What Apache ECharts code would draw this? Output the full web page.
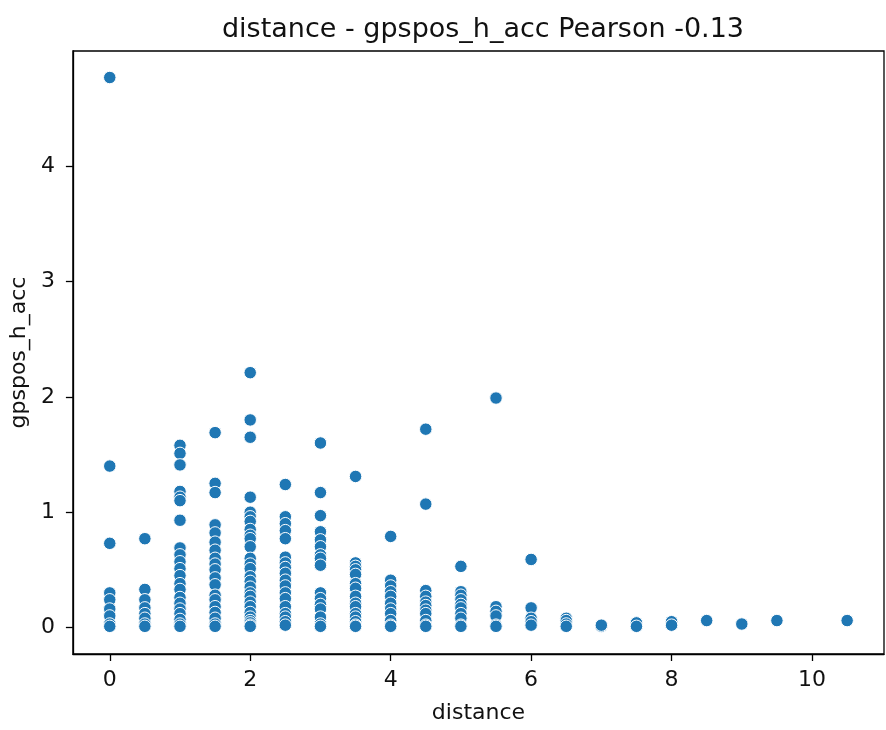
<!DOCTYPE html>
<html>
<head>
<meta charset="utf-8">
<script src="https://cdn.jsdelivr.net/npm/echarts@6/dist/echarts.min.js"></script>
<style>
html,body{margin:0;padding:0;background:#fff;}
#chart{width:886px;height:730px;}
</style>
</head>
<body>
<div id="chart"></div>
<script>
const titleText = 'distance - gpspos_h_acc Pearson -0.13';
const xName = 'distance';
const yName = 'gpspos_h_acc';
const xTicks = [0, 2, 4, 6, 8, 10];
const yTicks = [0, 1, 2, 3, 4];
const distance = [0, 0.5, 1, 1.5, 2, 2.5, 3, 3.5, 4, 4.5, 5, 5.5, 6, 6.5, 7, 7.5, 8, 8.5, 9, 9.5, 10.5];
const gpsposHAcc = [
  [4.77, 1.40, 0.73, 0.30, 0.24, 0.16, 0.10, 0.03, 0.01],
  [0.77, 0.33, 0.24, 0.17, 0.12, 0.08, 0.03, 0.01],
  [1.58, 1.51, 1.41, 1.18, 1.13, 1.10, 0.93, 0.69, 0.63, 0.57, 0.51, 0.45, 0.38, 0.33, 0.26, 0.21, 0.16, 0.12, 0.07, 0.03, 0.01],
  [1.69, 1.25, 1.17, 0.89, 0.82, 0.74, 0.67, 0.60, 0.55, 0.50, 0.43, 0.37, 0.28, 0.24, 0.18, 0.13, 0.08, 0.03, 0.01],
  [2.21, 1.80, 1.65, 1.13, 1.00, 0.96, 0.92, 0.85, 0.80, 0.77, 0.70, 0.60, 0.55, 0.51, 0.44, 0.40, 0.35, 0.30, 0.27, 0.22, 0.18, 0.13, 0.09, 0.06, 0.04, 0.02, 0.01],
  [1.24, 0.96, 0.90, 0.84, 0.77, 0.61, 0.56, 0.52, 0.47, 0.41, 0.36, 0.30, 0.25, 0.18, 0.12, 0.09, 0.05, 0.02],
  [1.60, 1.17, 0.97, 0.83, 0.76, 0.70, 0.63, 0.60, 0.54, 0.30, 0.25, 0.20, 0.16, 0.09, 0.03, 0.01],
  [1.31, 0.56, 0.53, 0.50, 0.46, 0.38, 0.34, 0.27, 0.21, 0.18, 0.12, 0.09, 0.05, 0.02, 0.01],
  [0.79, 0.41, 0.36, 0.31, 0.27, 0.21, 0.16, 0.12, 0.06, 0.02, 0.01],
  [1.72, 1.07, 0.32, 0.27, 0.22, 0.19, 0.15, 0.12, 0.06, 0.02, 0.01],
  [0.53, 0.31, 0.28, 0.24, 0.20, 0.17, 0.12, 0.08, 0.02, 0.01],
  [1.99, 0.18, 0.14, 0.10, 0.02, 0.01],
  [0.59, 0.17, 0.08, 0.05, 0.02],
  [0.08, 0.06, 0.03, 0.01],
  [0.01, 0.02],
  [0.04, 0.01],
  [0.05, 0.02],
  [0.06],
  [0.03],
  [0.06],
  [0.06]
];

const points = [];
distance.forEach((d, i) => gpsposHAcc[i].forEach(v => points.push([d, v])));

const font = 'DejaVu Sans';
const chart = echarts.init(document.getElementById('chart'), null, {renderer: 'canvas'});
chart.setOption({
  animation: false,
  backgroundColor: '#fff',
  title: {
    text: titleText,
    left: 478,
    textAlign: 'center',
    top: 11,
    textStyle: {fontFamily: font, fontSize: 27, fontWeight: 'normal', color: '#111'}
  },
  grid: {
    left: 72, right: 2, top: 51, bottom: 76,
    show: true, borderColor: '#000', borderWidth: 1.3, backgroundColor: 'transparent'
  },
  xAxis: {
    type: 'value',
    min: -0.525, max: 11.025,
    name: xName,
    nameLocation: 'middle',
    nameGap: 48,
    nameTextStyle: {fontFamily: font, fontSize: 22, color: '#111'},
    splitLine: {show: false},
    axisLine: {show: true, onZero: false, lineStyle: {color: '#000', width: 1.3}},
    axisTick: {show: true, length: 7, customValues: xTicks, lineStyle: {color: '#000', width: 1.3}},
    axisLabel: {customValues: xTicks, fontFamily: font, fontSize: 22, color: '#111', margin: 15}
  },
  yAxis: {
    type: 'value',
    min: -0.23, max: 5.0,
    name: yName,
    nameLocation: 'middle',
    nameGap: 36,
    nameTextStyle: {fontFamily: font, fontSize: 22, color: '#111'},
    splitLine: {show: false},
    axisLine: {show: true, onZero: false, lineStyle: {color: '#000', width: 1.3}},
    axisTick: {show: true, length: 7, customValues: yTicks, lineStyle: {color: '#000', width: 1.3}},
    axisLabel: {customValues: yTicks, fontFamily: font, fontSize: 22, color: '#111', margin: 18}
  },
  series: [{
    type: 'scatter',
    data: points,
    symbol: 'circle',
    symbolSize: 12.5,
    itemStyle: {color: '#1f77b4', borderColor: '#fff', borderWidth: 1, opacity: 1}
  }]
});
</script>
</body>
</html>
